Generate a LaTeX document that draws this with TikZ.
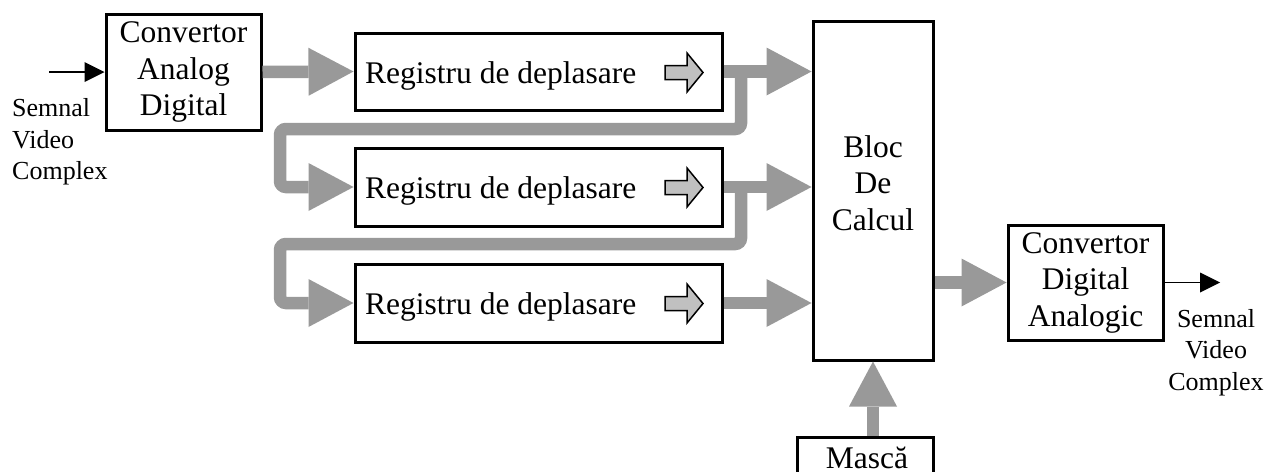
\documentclass[tikz,border=0pt]{standalone}
\usepackage{fontspec}
\setmainfont{Liberation Serif}
\usetikzlibrary{arrows.meta}
\definecolor{busgray}{RGB}{153,153,153}
\definecolor{shiftfill}{RGB}{192,192,192}

\begin{document}
\begin{tikzpicture}[x=1pt,y=-1pt,
  block/.style={draw, line width=3pt, inner sep=0pt, align=center,
    font=\fontsize{31.5}{36.5}\selectfont},
  boxtext/.style={inner sep=0pt, align=center, font=\fontsize{31.5}{36.5}\selectfont},
  regtext/.style={inner sep=0pt, anchor=base west, font=\fontsize{31.5}{36.5}\selectfont},
  sigtext/.style={inner sep=0pt, font=\fontsize{26}{31.5}\selectfont},
  bus/.style={draw=busgray, line width=12.5pt,
    -{Triangle[length=45pt,width=48pt,line width=0pt]}},
  sig/.style={line width=1.5pt, -{Triangle[length=20pt,width=20pt,line width=0pt]}},
  shiftarrow/.pic={
    \draw[line width=1.5pt, fill=shiftfill, line join=miter]
      (0,-7) -- (22,-7) -- (22,-19.5) -- (38,0) -- (22,19.5) -- (22,7) -- (0,7) -- cycle;}
]
\useasboundingbox (0,0) rectangle (1268,471);
\clip (0,0) rectangle (1268,471);

% blocks
\node[block, minimum width=155pt, minimum height=116pt] (adc) at (183.5,72) {Convertor\\Analog\\Digital};
\node[block, minimum width=367pt, minimum height=77pt] (reg1) at (538.5,71.5) {};
\node[block, minimum width=367pt, minimum height=78pt] (reg2) at (538.5,187) {};
\node[block, minimum width=367pt, minimum height=78pt] (reg3) at (538.5,303) {};
\node[block, minimum width=120pt, minimum height=339pt] (bloc) at (873,190.5) {};
\node[block, minimum width=155pt, minimum height=115pt] (dac) at (1085.5,282.5) {Convertor\\Digital\\Analogic};
\node[block, minimum width=136pt, minimum height=80pt] (masca) at (865,477) {};

% texts inside the blocks
\node[regtext] (reg1t) at (365,83) {Registru de deplasare};
\node[regtext] (reg2t) at (365,198.5) {Registru de deplasare};
\node[regtext] (reg3t) at (365,314.5) {Registru de deplasare};
\node[boxtext] (bloct) at (873,183) {Bloc\\De\\Calcul};
\node[inner sep=0pt, anchor=base, text depth=0pt, font=\fontsize{31.5}{36.5}\selectfont] (mascat) at (867,468) {Mască};

% shift symbols
\pic at (665,72.5) {shiftarrow};
\pic at (665,187.5) {shiftarrow};
\pic at (665,303.5) {shiftarrow};

% signal labels
\node[sigtext, align=left, anchor=west] (insig) at (12,142) {Semnal\\Video\\Complex};
\node[sigtext, align=center] (outsig) at (1216,352.5) {Semnal\\Video\\Complex};

% analog signal in and out
\coordinate (in) at (49,72);
\coordinate (out) at (1220,282.5);
\draw[sig] (in) -- (adc.west);
\draw[sig] (dac.east) -- (out);

% data buses
\draw[bus] (adc.east) -- (reg1.west);
\draw[bus] (reg1.east) -- (reg1.east -| bloc.west);
\draw[bus] (reg2.east) -- (reg2.east -| bloc.west);
\draw[bus] (reg3.east) -- (reg3.east -| bloc.west);

\coordinate (tap1) at (741,71.5);
\coordinate (bend1) at (280,129);
\coordinate (tap2) at (741,187);
\coordinate (bend2) at (280,244);
\draw[bus, rounded corners=6pt] (tap1) |- (bend1) |- (reg2.west);
\draw[bus, rounded corners=6pt] (tap2) |- (bend2) |- (reg3.west);

\draw[bus] (bloc.east |- dac.west) -- (dac.west);
\draw[bus] (bloc.south |- masca.north) -- (bloc.south);
\end{tikzpicture}
\end{document}
